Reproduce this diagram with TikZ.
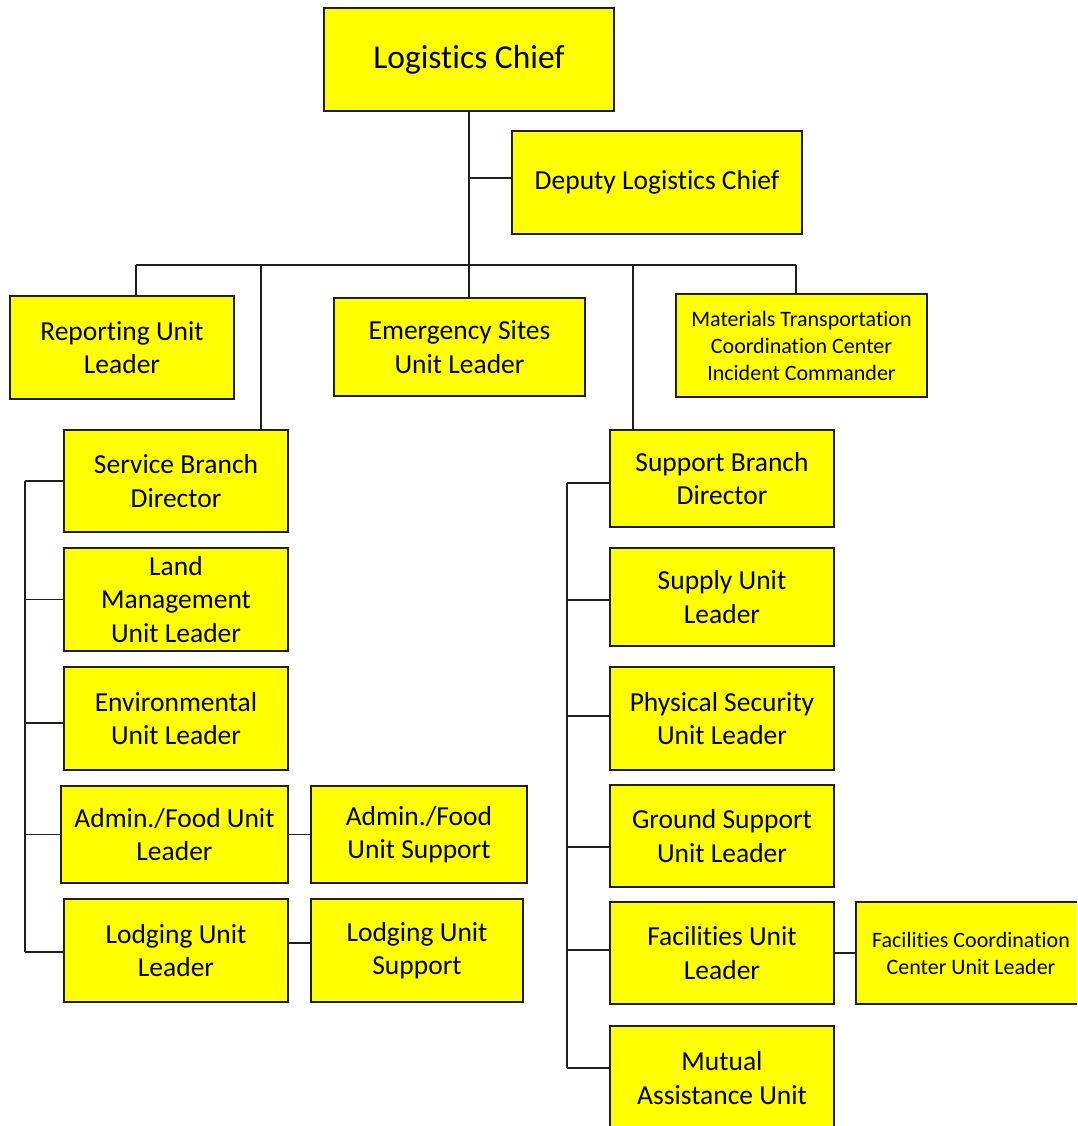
\documentclass[tikz,border=0pt]{standalone}
\usepackage{fontspec}
\setmainfont{Carlito}[Ligatures=NoCommon]
\definecolor{boxyellow}{RGB}{255,255,0}
\definecolor{edge}{RGB}{30,30,30}
\begin{document}
\begin{tikzpicture}[x=1pt,y=-1pt,
  box/.style={draw=edge, fill=boxyellow, line width=1.2pt, inner sep=0pt,
    align=center, font=\fontsize{27.5}{33.5}\selectfont},
  smallbox/.style={box, font=\fontsize{22}{27}\selectfont},
  link/.style={draw=edge, line width=1.2pt}]
\clip (0,0) rectangle (1077,1126);
\fill[white] (0,0) rectangle (1077,1126);

% top of the chart
\node[box, minimum width=290pt, minimum height=103pt, font=\fontsize{33.5}{40}\selectfont] (chief) at (469,59.5) {Logistics Chief};
\node[box, minimum width=290pt, minimum height=103pt] (dep) at (657,182.5) {Deputy Logistics Chief};

% second row
\node[box, minimum width=224pt, minimum height=103pt] (rep) at (122,347.5) {Reporting Unit\\Leader};
\node[box, minimum width=251pt, minimum height=98pt] (emerg) at (459.5,347) {Emergency Sites\\Unit Leader};
\node[smallbox, minimum width=251pt, minimum height=103pt] (mat) at (801.5,345.5) {Materials Transportation\\Coordination Center\\Incident Commander};

% service branch
\node[box, minimum width=224pt, minimum height=102pt] (svc) at (176,481) {Service Branch\\Director};
\node[box, minimum width=224pt, minimum height=103pt] (land) at (176,599.5) {Land\\Management\\Unit Leader};
\node[box, minimum width=224pt, minimum height=103pt] (env) at (176,718.5) {Environmental\\Unit Leader};
\node[box, minimum width=227pt, minimum height=97pt] (admin) at (174.5,834.5) {Admin./Food Unit\\Leader};
\node[box, minimum width=224pt, minimum height=103pt] (lodg) at (176,950.5) {Lodging Unit\\Leader};
\node[box, minimum width=216pt, minimum height=97pt] (adsup) at (419,834.5) {Admin./Food\\Unit Support};
\node[box, minimum width=212pt, minimum height=103pt] (lodsup) at (417,950.5) {Lodging Unit\\Support};

% support branch
\node[box, minimum width=224pt, minimum height=97pt] (sup) at (722,478.5) {Support Branch\\Director};
\node[box, minimum width=224pt, minimum height=98pt] (supply) at (722,597) {Supply Unit\\Leader};
\node[box, minimum width=224pt, minimum height=103pt] (phys) at (722,718.5) {Physical Security\\Unit Leader};
\node[box, minimum width=224pt, minimum height=102pt] (ground) at (722,836) {Ground Support\\Unit Leader};
\node[box, minimum width=224pt, minimum height=102pt] (fac) at (722,953) {Facilities Unit\\Leader};
\node[box, minimum width=224pt, minimum height=104pt] (mutual) at (722,1078) {Mutual\\Assistance Unit};
\node[smallbox, minimum width=230pt, minimum height=102pt] (faccc) at (971,953) {Facilities Coordination\\Center Unit Leader};

% bus and drop points
\coordinate (b1) at (136,265);
\coordinate (b2) at (261,265);
\coordinate (b4) at (633,265);
\coordinate (b5) at (796,265);
\coordinate (ls) at (25,0);
\coordinate (rs) at (567,0);

\draw[link] (chief.south) -- (chief.south |- emerg.north);
\draw[link] ([yshift=4.5pt]chief.south |- dep.west) -- ([yshift=4.5pt]dep.west);
\draw[link] (b1) -- (b5);
\draw[link] (b1) -- (b1 |- rep.north);
\draw[link] (b2) -- (b2 |- svc.north);
\draw[link] (b4) -- (b4 |- sup.north);
\draw[link] (b5) -- (b5 |- mat.north);

% service branch spine
\draw[link] (ls |- svc.west) -- ([yshift=-1.5pt]ls |- lodg.west);
\draw[link] (ls |- svc.west) -- (svc.west);
\draw[link] (ls |- land.west) -- (land.west);
\draw[link] ([yshift=-4.5pt]ls |- env.west) -- ([yshift=-4.5pt]env.west);
\draw[link] (ls |- admin.west) -- (admin.west);
\draw[link] ([yshift=-1.5pt]ls |- lodg.west) -- ([yshift=-1.5pt]lodg.west);
\draw[link] (admin.east) -- (admin.east -| adsup.west);
\draw[link] ([yshift=7.5pt]lodg.east) -- ([yshift=7.5pt]lodg.east -| lodsup.west);

% support branch spine
\draw[link] ([yshift=-4.5pt]rs |- sup.west) -- ([yshift=10pt]rs |- mutual.west);
\draw[link] ([yshift=-4.5pt]rs |- sup.west) -- ([yshift=-4.5pt]sup.west);
\draw[link] ([yshift=-3pt]rs |- supply.west) -- ([yshift=-3pt]supply.west);
\draw[link] ([yshift=2.5pt]rs |- phys.west) -- ([yshift=2.5pt]phys.west);
\draw[link] ([yshift=-11pt]rs |- ground.west) -- ([yshift=-11pt]ground.west);
\draw[link] ([yshift=3pt]rs |- fac.west) -- ([yshift=3pt]fac.west);
\draw[link] ([yshift=10pt]rs |- mutual.west) -- ([yshift=10pt]mutual.west);
\draw[link] (fac.east) -- (fac.east -| faccc.west);
\end{tikzpicture}
\end{document}
